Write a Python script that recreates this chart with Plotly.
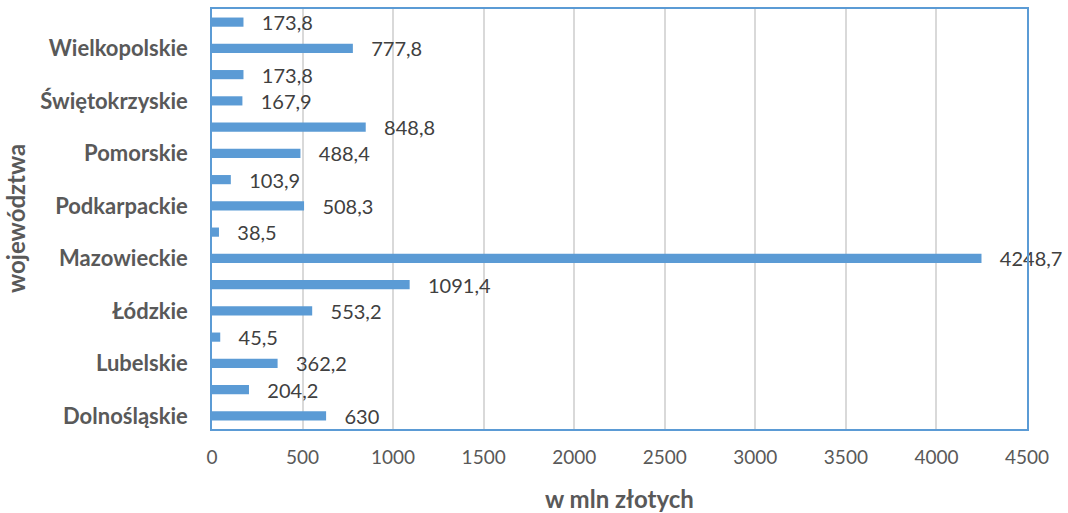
import plotly.graph_objects as go

categories = ["Dolnośląskie", "Kujawsko-pomorskie", "Lubelskie", "Lubuskie", "Łódzkie",
              "Małopolskie", "Mazowieckie", "Opolskie", "Podkarpackie", "Podlaskie",
              "Pomorskie", "Śląskie", "Świętokrzyskie", "Warmińsko-mazurskie",
              "Wielkopolskie", "Zachodniopomorskie"]
values = [630, 204.2, 362.2, 45.5, 553.2, 1091.4, 4248.7, 38.5, 508.3, 103.9,
          488.4, 848.8, 167.9, 173.8, 777.8, 173.8]
shown_labels = ["Dolnośląskie", "Lubelskie", "Łódzkie", "Mazowieckie", "Podkarpackie",
                "Pomorskie", "Świętokrzyskie", "Wielkopolskie"]
x_ticks = [0, 500, 1000, 1500, 2000, 2500, 3000, 3500, 4000, 4500]


def fmt(v):
    s = ("%g" % v)
    return s.replace(".", ",")


labels = ["   " + fmt(v) for v in values]

BLUE = "#5B9BD5"
FONT = "Lato"

fig = go.Figure()
fig.add_trace(go.Bar(
    y=categories, x=values, orientation="h",
    marker=dict(color=BLUE, line=dict(width=0)),
    width=0.35,
    text=labels, textposition="outside", cliponaxis=False,
    constraintext="none",
    textfont=dict(family=FONT, size=20, color="#404040"),
    hoverinfo="x+y",
))

fig.update_layout(
    width=1068, height=513,
    margin=dict(l=212, r=41, t=9, b=84),
    paper_bgcolor="white", plot_bgcolor="white",
    showlegend=False,
    font=dict(family=FONT, color="#595959"),
    xaxis=dict(
        range=[0, 4500], tickvals=x_ticks, ticktext=[str(t) for t in x_ticks],
        showgrid=True, gridcolor="#D9D9D9", gridwidth=1.5,
        zeroline=False, showline=True, linecolor=BLUE, linewidth=1.5, mirror=True,
        tickfont=dict(family=FONT, size=19, color="#595959"),
        ticks="outside", ticklen=10, tickcolor="rgba(0,0,0,0)",
        automargin=False,
    ),
    yaxis=dict(
        type="category", categoryorder="array", categoryarray=categories,
        range=[-0.5, len(categories) - 0.5],
        tickvals=shown_labels, ticktext=shown_labels,
        showgrid=False, zeroline=False,
        showline=True, linecolor=BLUE, linewidth=1.5, mirror=True,
        tickfont=dict(family=FONT, size=22, color="#595959", weight="bold"),
        ticks="outside", ticklen=18, tickcolor="rgba(0,0,0,0)",
        automargin=False,
    ),
    annotations=[
        dict(text="<b>w mln złotych</b>", xref="paper", yref="paper", x=0.5, y=0,
             yshift=-69, showarrow=False, xanchor="center", yanchor="middle",
             font=dict(family=FONT, size=24, color="#595959")),
        dict(text="<b>województwa</b>", xref="paper", yref="paper", x=0, y=0.5,
             xshift=-197, showarrow=False, textangle=-90, xanchor="center",
             yanchor="middle", font=dict(family=FONT, size=24, color="#595959")),
    ],
)

fig.write_html("out.html", config={"displayModeBar": False},
               post_script="document.body.style.margin='0';document.body.style.overflow='hidden';")
